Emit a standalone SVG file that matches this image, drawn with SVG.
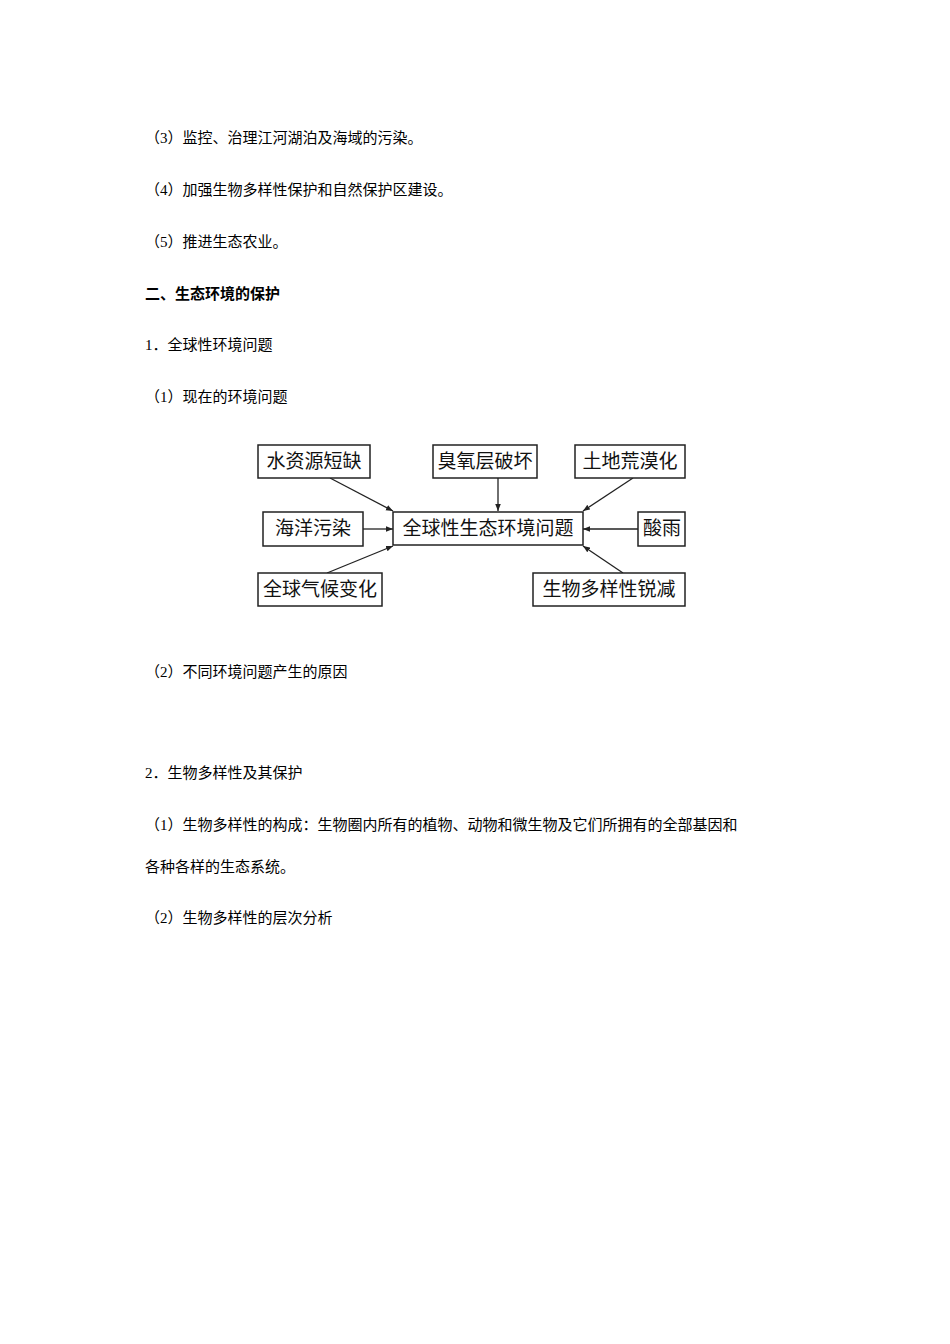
<svg xmlns="http://www.w3.org/2000/svg" width="950" height="1344" viewBox="0 0 950 1344">
<defs>
<style>
.t{font-family:"Liberation Serif","Noto Sans CJK SC",serif;font-size:15px;fill:#000}
.b{font-weight:bold}
.n rect{fill:#fff;stroke:#222;stroke-width:1.5}
.n text{font-family:"Liberation Serif","Noto Sans CJK SC",serif;font-size:19px;fill:#111;text-anchor:middle}
.c line{stroke:#222;stroke-width:1.3;marker-end:url(#a)}
</style>
<marker id="a" viewBox="0 0 10 10" refX="10" refY="5" markerWidth="7" markerHeight="7" orient="auto" markerUnits="userSpaceOnUse"><path d="M0,1 L10,5 L0,9 Z" fill="#222"/></marker>
</defs>
<rect width="950" height="1344" fill="#fff"/>
<text class="t" x="145" y="143">（3）监控、治理江河湖泊及海域的污染。</text>
<text class="t" x="145" y="195">（4）加强生物多样性保护和自然保护区建设。</text>
<text class="t" x="145" y="247">（5）推进生态农业。</text>
<text class="t b" x="145" y="299">二、生态环境的保护</text>
<text class="t" x="145" y="350">1．全球性环境问题</text>
<text class="t" x="145" y="402">（1）现在的环境问题</text>
<g class="c">
<line x1="330" y1="478" x2="393" y2="511"/>
<line x1="498" y1="478" x2="498" y2="511"/>
<line x1="633" y1="478" x2="583" y2="511"/>
<line x1="363" y1="529" x2="393" y2="529"/>
<line x1="638" y1="529" x2="583" y2="529"/>
<line x1="327" y1="573" x2="393" y2="546"/>
<line x1="623" y1="573" x2="583" y2="546"/>
</g>
<g id="n1" class="n"><rect x="258" y="445" width="112" height="33"/><text x="314" y="468">水资源短缺</text></g>
<g id="n2" class="n"><rect x="433" y="445" width="104" height="33"/><text x="485" y="468">臭氧层破坏</text></g>
<g id="n3" class="n"><rect x="575" y="445" width="110" height="33"/><text x="630" y="468">土地荒漠化</text></g>
<g id="n4" class="n"><rect x="263" y="512" width="100" height="34"/><text x="313" y="535">海洋污染</text></g>
<g id="n5" class="n"><rect x="393" y="512" width="190" height="33"/><text x="488" y="535">全球性生态环境问题</text></g>
<g id="n6" class="n"><rect x="638" y="512" width="47" height="34"/><text x="662" y="535">酸雨</text></g>
<g id="n7" class="n"><rect x="258" y="573" width="124" height="33"/><text x="320" y="596">全球气候变化</text></g>
<g id="n8" class="n"><rect x="533" y="573" width="152" height="33"/><text x="609" y="596">生物多样性锐减</text></g>
<text class="t" x="145" y="677">（2）不同环境问题产生的原因</text>
<text class="t" x="145" y="778">2．生物多样性及其保护</text>
<text class="t" x="145" y="830">（1）生物多样性的构成：生物圈内所有的植物、动物和微生物及它们所拥有的全部基因和</text>
<text class="t" x="145" y="872">各种各样的生态系统。</text>
<text class="t" x="145" y="923">（2）生物多样性的层次分析</text>
</svg>
